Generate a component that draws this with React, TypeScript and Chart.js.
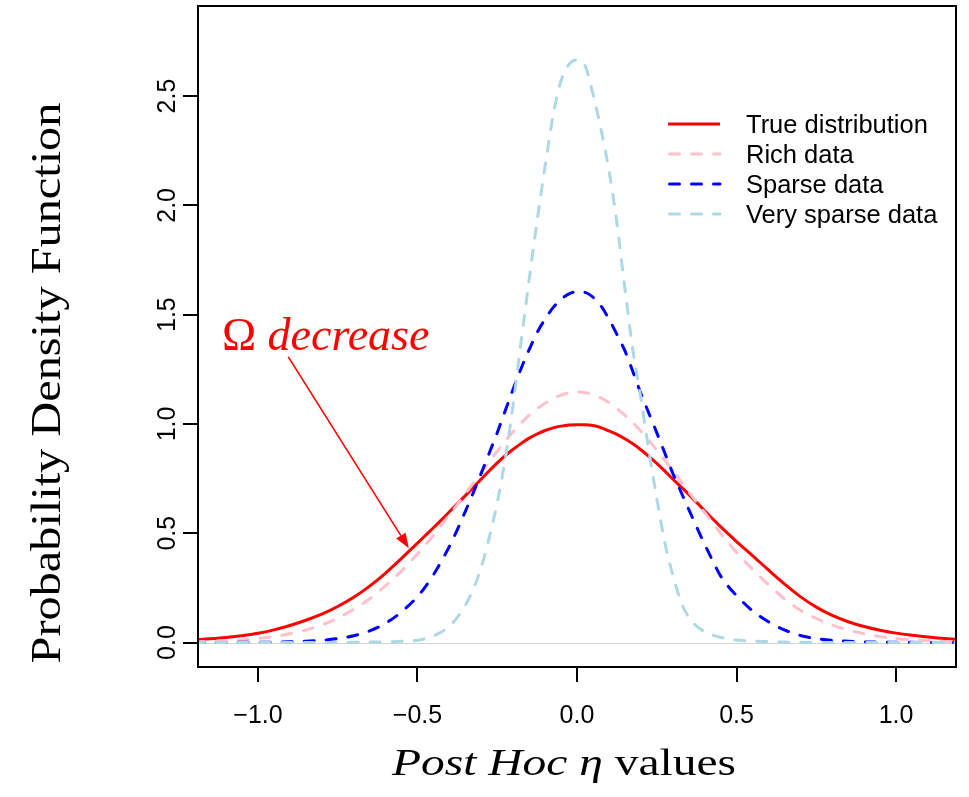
import React, { useEffect, useRef } from 'react';
import { Chart, registerables } from 'chart.js';

Chart.register(...registerables);

// x grid (post hoc eta values)
const etaGrid = [
  -1.2, -1.15, -1.1, -1.05, -1.0, -0.95, -0.9, -0.85, -0.8, -0.75, -0.7, -0.65, -0.6, -0.55,
  -0.5, -0.475, -0.45, -0.425, -0.4, -0.375, -0.35, -0.325, -0.3, -0.275, -0.25, -0.225, -0.2, -0.175,
  -0.15, -0.125, -0.1, -0.075, -0.05, -0.025, 0, 0.025, 0.05, 0.075, 0.1, 0.125, 0.15, 0.175,
  0.2, 0.225, 0.25, 0.275, 0.3, 0.325, 0.35, 0.375, 0.4, 0.425, 0.45, 0.475, 0.5,
  0.55, 0.6, 0.65, 0.7, 0.75, 0.8, 0.85, 0.9, 0.95, 1.0, 1.05, 1.1, 1.15, 1.2,
];

const trueDensity = [
  0.012, 0.017, 0.023, 0.031, 0.042, 0.058, 0.078, 0.102, 0.130, 0.165, 0.207, 0.258, 0.318, 0.385,
  0.455, 0.490, 0.525, 0.561, 0.598, 0.635, 0.672, 0.710, 0.748, 0.786, 0.822, 0.855, 0.884, 0.911,
  0.935, 0.954, 0.970, 0.982, 0.990, 0.995, 0.996, 0.996, 0.993, 0.983, 0.968, 0.952, 0.932, 0.909,
  0.882, 0.852, 0.820, 0.785, 0.748, 0.713, 0.678, 0.641, 0.603, 0.566, 0.530, 0.496, 0.462,
  0.398, 0.332, 0.268, 0.210, 0.162, 0.124, 0.095, 0.073, 0.056, 0.043, 0.033, 0.025, 0.018, 0.013,
];

const richDensity = [
  0.003, 0.005, 0.008, 0.012, 0.018, 0.027, 0.040, 0.057, 0.080, 0.112, 0.152, 0.200, 0.260, 0.328,
  0.405, 0.447, 0.490, 0.537, 0.585, 0.632, 0.680, 0.730, 0.780, 0.828, 0.875, 0.921, 0.965, 1.004,
  1.040, 1.070, 1.095, 1.116, 1.132, 1.142, 1.146, 1.143, 1.135, 1.119, 1.098, 1.071, 1.040, 1.005,
  0.968, 0.925, 0.880, 0.834, 0.788, 0.739, 0.690, 0.642, 0.595, 0.547, 0.500, 0.455, 0.412,
  0.335, 0.265, 0.200, 0.148, 0.110, 0.080, 0.057, 0.040, 0.027, 0.018, 0.012, 0.008, 0.005, 0.003,
];

const sparseDensity = [
  0.000, 0.000, 0.000, 0.001, 0.001, 0.002, 0.003, 0.006, 0.010, 0.018, 0.031, 0.053, 0.088, 0.140,
  0.210, 0.256, 0.310, 0.372, 0.440, 0.517, 0.600, 0.686, 0.775, 0.867, 0.960, 1.060, 1.160, 1.255,
  1.340, 1.418, 1.480, 1.532, 1.570, 1.595, 1.605, 1.602, 1.580, 1.540, 1.480, 1.410, 1.335, 1.240,
  1.140, 1.050, 0.960, 0.868, 0.775, 0.692, 0.610, 0.528, 0.450, 0.375, 0.305, 0.255, 0.215,
  0.145, 0.095, 0.058, 0.032, 0.018, 0.010, 0.006, 0.003, 0.002, 0.001, 0.001, 0.000, 0.000, 0.000,
];

const verySparseDensity = [
  0.000, 0.000, 0.000, 0.000, 0.000, 0.000, 0.000, 0.000, 0.000, 0.000, 0.001, 0.002, 0.003, 0.006,
  0.010, 0.018, 0.030, 0.048, 0.075, 0.115, 0.170, 0.245, 0.345, 0.480, 0.640, 0.840, 1.090, 1.380,
  1.660, 1.930, 2.180, 2.410, 2.570, 2.645, 2.665, 2.640, 2.510, 2.350, 2.160, 1.920, 1.620, 1.340,
  1.120, 0.880, 0.660, 0.460, 0.310, 0.190, 0.115, 0.075, 0.050, 0.034, 0.024, 0.016, 0.011,
  0.006, 0.004, 0.002, 0.001, 0.000, 0.000, 0.000, 0.000, 0.000, 0.000, 0.000, 0.000, 0.000, 0.000,
];

const seriesLabels = ['True distribution', 'Rich data', 'Sparse data', 'Very sparse data'];
const seriesValues = [trueDensity, richDensity, sparseDensity, verySparseDensity];
const seriesColors = ['#FF0000', '#FFC0CB', '#0000FF', '#ADD8E6'];
const seriesDashed = [false, true, true, true];

const xLimits = [-1.188, 1.188];
const yLimits = [-0.112, 2.912];
const tickStep = 0.5;

const yTitle = 'Probability Density Function';
const xTitleParts = [
  { text: 'Post Hoc ', italic: true },
  { text: 'η', italic: true },
  { text: ' values', italic: false },
];
const annotationParts = [
  { text: 'Ω ', italic: false },
  { text: 'decrease', italic: true },
];
// annotation anchors in data units
const annotationAnchor = { x: -1.113, y: 1.339 };
const arrowFrom = { x: -0.905, y: 1.307 };
const arrowTo = { x: -0.527, y: 0.431 };

const SANS = '"Liberation Sans", Arial, Helvetica, sans-serif';
const SERIF = '"Liberation Serif", "Times New Roman", Times, serif';
const DASH = [10, 12];

const fmt = (v: number) => (v < 0 ? '\u2212' + Math.abs(v).toFixed(1) : Math.abs(v).toFixed(1));

function drawParts(ctx: CanvasRenderingContext2D, parts: { text: string; italic: boolean }[], size: number, x: number, y: number, stretch: number, align: 'left' | 'center') {
  const fontOf = (p: { italic: boolean }) => `${p.italic ? 'italic ' : ''}${size}px ${SERIF}`;
  let total = 0;
  const widths = parts.map((p) => {
    ctx.font = fontOf(p);
    const w = ctx.measureText(p.text).width;
    total += w;
    return w;
  });
  ctx.save();
  ctx.translate(x, y);
  ctx.scale(stretch, 1);
  let cx = align === 'center' ? -total / 2 : 0;
  ctx.textAlign = 'left';
  ctx.textBaseline = 'alphabetic';
  parts.forEach((p, i) => {
    ctx.font = fontOf(p);
    ctx.fillText(p.text, cx, 0);
    cx += widths[i];
  });
  ctx.restore();
}

const decorPlugin = {
  id: 'decor',
  beforeDatasetsDraw(chart: any) {
    const { ctx, chartArea: a, scales } = chart;
    const y0 = Math.round(scales.y.getPixelForValue(0)) + 0.5;
    ctx.save();
    ctx.strokeStyle = '#D3D3D3';
    ctx.lineWidth = 1;
    ctx.beginPath();
    ctx.moveTo(a.left, y0);
    ctx.lineTo(a.right, y0);
    ctx.stroke();
    ctx.restore();
  },
  afterDraw(chart: any) {
    const { ctx, chartArea: a, scales } = chart;
    const xs = scales.x;
    const ys = scales.y;
    ctx.save();

    // box
    ctx.strokeStyle = '#000';
    ctx.lineWidth = 2;
    ctx.strokeRect(a.left, a.top, a.right - a.left, a.bottom - a.top);

    // y tick labels (rotated, R style)
    ctx.fillStyle = '#000';
    ctx.font = `25px ${SANS}`;
    ctx.textAlign = 'center';
    ctx.textBaseline = 'alphabetic';
    ys.ticks.forEach((t: any) => {
      const py = ys.getPixelForValue(t.value);
      ctx.save();
      ctx.translate(a.left - 23, py);
      ctx.rotate(-Math.PI / 2);
      ctx.fillText(fmt(t.value), 0, 0);
      ctx.restore();
    });

    // legend
    const lx0 = a.right - 288;
    const lx1 = a.right - 236;
    const tx = a.right - 210;
    seriesLabels.forEach((label, i) => {
      const cy = a.top + 118 + i * 30;
      ctx.save();
      ctx.strokeStyle = seriesColors[i];
      ctx.lineWidth = 3;
      ctx.lineCap = seriesDashed[i] ? 'round' : 'butt';
      ctx.setLineDash(seriesDashed[i] ? DASH : []);
      ctx.beginPath();
      ctx.moveTo(lx0 + (seriesDashed[i] ? 1.5 : 0), cy);
      ctx.lineTo(lx1, cy);
      ctx.stroke();
      ctx.restore();
      ctx.fillStyle = '#000';
      ctx.font = `25.5px ${SANS}`;
      ctx.textAlign = 'left';
      ctx.textBaseline = 'alphabetic';
      ctx.fillText(label, tx, cy + 9);
    });

    // y axis title
    ctx.save();
    ctx.translate(60, 383);
    ctx.rotate(-Math.PI / 2);
    ctx.fillStyle = '#000';
    drawParts(ctx, [{ text: yTitle, italic: false }], 42, 0, 0, 1.15, 'center');
    ctx.restore();

    // x axis title
    ctx.fillStyle = '#000';
    drawParts(ctx, xTitleParts, 38, 564, 775, 1.25, 'center');

    // annotation text
    ctx.fillStyle = '#FF0000';
    drawParts(
      ctx,
      annotationParts,
      46,
      xs.getPixelForValue(annotationAnchor.x),
      ys.getPixelForValue(annotationAnchor.y),
      1,
      'left'
    );

    // arrow
    const fx = xs.getPixelForValue(arrowFrom.x);
    const fy = ys.getPixelForValue(arrowFrom.y);
    const tx2 = xs.getPixelForValue(arrowTo.x);
    const ty2 = ys.getPixelForValue(arrowTo.y);
    const ang = Math.atan2(ty2 - fy, tx2 - fx);
    const headLen = 15;
    const headHalf = 5.5;
    const bx = tx2 - headLen * Math.cos(ang);
    const by = ty2 - headLen * Math.sin(ang);
    ctx.strokeStyle = '#FF0000';
    ctx.lineWidth = 1.6;
    ctx.beginPath();
    ctx.moveTo(fx, fy);
    ctx.lineTo(bx, by);
    ctx.stroke();
    ctx.fillStyle = '#FF0000';
    ctx.beginPath();
    ctx.moveTo(tx2, ty2);
    ctx.lineTo(bx + headHalf * Math.sin(ang), by - headHalf * Math.cos(ang));
    ctx.lineTo(bx - headHalf * Math.sin(ang), by + headHalf * Math.cos(ang));
    ctx.closePath();
    ctx.fill();

    ctx.restore();
  },
};

export default function App() {
  const canvasRef = useRef<HTMLCanvasElement | null>(null);

  useEffect(() => {
    if (!canvasRef.current) return;
    const datasets = seriesLabels.map((label, i) => ({
      label,
      data: etaGrid.map((x, j) => ({ x, y: seriesValues[i][j] })),
      borderColor: seriesColors[i],
      backgroundColor: seriesColors[i],
      borderWidth: 3,
      borderDash: seriesDashed[i] ? DASH : [],
      borderCapStyle: seriesDashed[i] ? 'round' : 'butt',
      borderJoinStyle: 'round',
      pointRadius: 0,
      fill: false,
      cubicInterpolationMode: 'monotone',
      order: seriesLabels.length - i,
      clip: 0,
    }));

    const chart = new Chart(canvasRef.current, {
      type: 'line',
      data: { datasets: datasets as any },
      options: {
        animation: false,
        responsive: false,
        devicePixelRatio: 1,
        parsing: false,
        layout: { padding: { top: 6, right: 13, left: 0, bottom: 0 } },
        plugins: { legend: { display: false }, tooltip: { enabled: false } },
        scales: {
          x: {
            type: 'linear',
            min: xLimits[0],
            max: xLimits[1],
            afterFit: (s: any) => {
              s.height = 130;
            },
            border: { display: false },
            grid: { drawOnChartArea: false, drawTicks: true, tickLength: 15, color: '#000', lineWidth: 2 },
            ticks: {
              stepSize: tickStep,
              includeBounds: false,
              maxRotation: 0,
              minRotation: 0,
              padding: 19,
              color: '#000',
              font: { family: SANS, size: 25 },
              callback: (v: any) => fmt(Number(v)),
            },
          },
          y: {
            type: 'linear',
            min: yLimits[0],
            max: yLimits[1],
            afterFit: (s: any) => {
              s.width = 198;
            },
            border: { display: false },
            grid: { drawOnChartArea: false, drawTicks: true, tickLength: 15, color: '#000', lineWidth: 2 },
            ticks: {
              stepSize: tickStep,
              includeBounds: false,
              display: false,
            },
          },
        },
      } as any,
      plugins: [decorPlugin as any],
    });
    return () => chart.destroy();
  }, []);

  return (
    <div style={{ position: 'absolute', left: 0, top: 0, width: 969, height: 797, background: '#fff' }}>
      <canvas ref={canvasRef} width={969} height={797} style={{ display: 'block' }} />
    </div>
  );
}
